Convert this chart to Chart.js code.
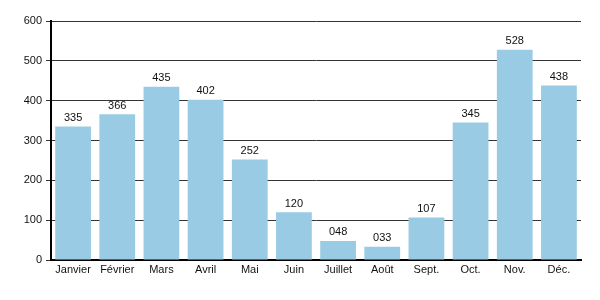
<!DOCTYPE html>
<html>
<head>
<meta charset="utf-8">
<script src="https://cdn.jsdelivr.net/npm/chart.js@4/dist/chart.umd.min.js"></script>
<style>
  html, body { margin: 0; padding: 0; background: #fff; }
  #wrap { width: 600px; height: 300px; }
</style>
</head>
<body>
<div id="wrap"><canvas id="chart" width="600" height="300"></canvas></div>
<script>
// Données
const mois = ['Janvier', 'Février', 'Mars', 'Avril', 'Mai', 'Juin', 'Juillet', 'Août', 'Sept.', 'Oct.', 'Nov.', 'Déc.'];
const valeurs = [335, 366, 435, 402, 252, 120, 48, 33, 107, 345, 528, 438];
const yTicks = [0, 100, 200, 300, 400, 500, 600];

// Étiquettes au-dessus des barres (format sur 3 chiffres : 048, 033)
const valueLabels = {
  id: 'valueLabels',
  afterDatasetsDraw(chart) {
    const ctx = chart.ctx;
    const meta = chart.getDatasetMeta(0);
    ctx.save();
    ctx.font = '11px "Liberation Sans", Arial, sans-serif';
    ctx.fillStyle = '#111';
    ctx.textAlign = 'center';
    ctx.textBaseline = 'bottom';
    meta.data.forEach((bar, i) => {
      ctx.fillText(String(valeurs[i]).padStart(3, '0'), bar.x, bar.y - 3);
    });
    ctx.restore();
  }
};

new Chart(document.getElementById('chart'), {
  type: 'bar',
  data: {
    labels: mois,
    datasets: [{
      data: valeurs,
      backgroundColor: '#99cce4',
      borderWidth: 0,
      barPercentage: 1,
      categoryPercentage: 0.81
    }]
  },
  options: {
    responsive: false,
    animation: false,
    layout: { padding: { top: 21, right: 19, left: 0, bottom: 0 } },
    plugins: {
      legend: { display: false },
      tooltip: { enabled: false }
    },
    scales: {
      x: {
        grid: { display: false, drawTicks: false },
        border: { display: true, color: '#000', width: 2 },
        ticks: {
          color: '#111',
          font: { family: '"Liberation Sans", Arial, sans-serif', size: 11 },
          padding: 3,
          maxRotation: 0
        },
        afterFit(scale) { scale.height = 40; }
      },
      y: {
        min: 0,
        max: 600,
        afterBuildTicks(scale) { scale.ticks = yTicks.map(v => ({ value: v })); },
        grid: { color: '#333', lineWidth: 1, tickLength: 5, drawTicks: true },
        border: { display: true, color: '#000', width: 2 },
        ticks: {
          color: '#111',
          font: { family: '"Liberation Sans", Arial, sans-serif', size: 11 },
          padding: 4
        },
        afterFit(scale) { scale.width = 51; }
      }
    }
  },
  plugins: [valueLabels]
});
</script>
</body>
</html>
